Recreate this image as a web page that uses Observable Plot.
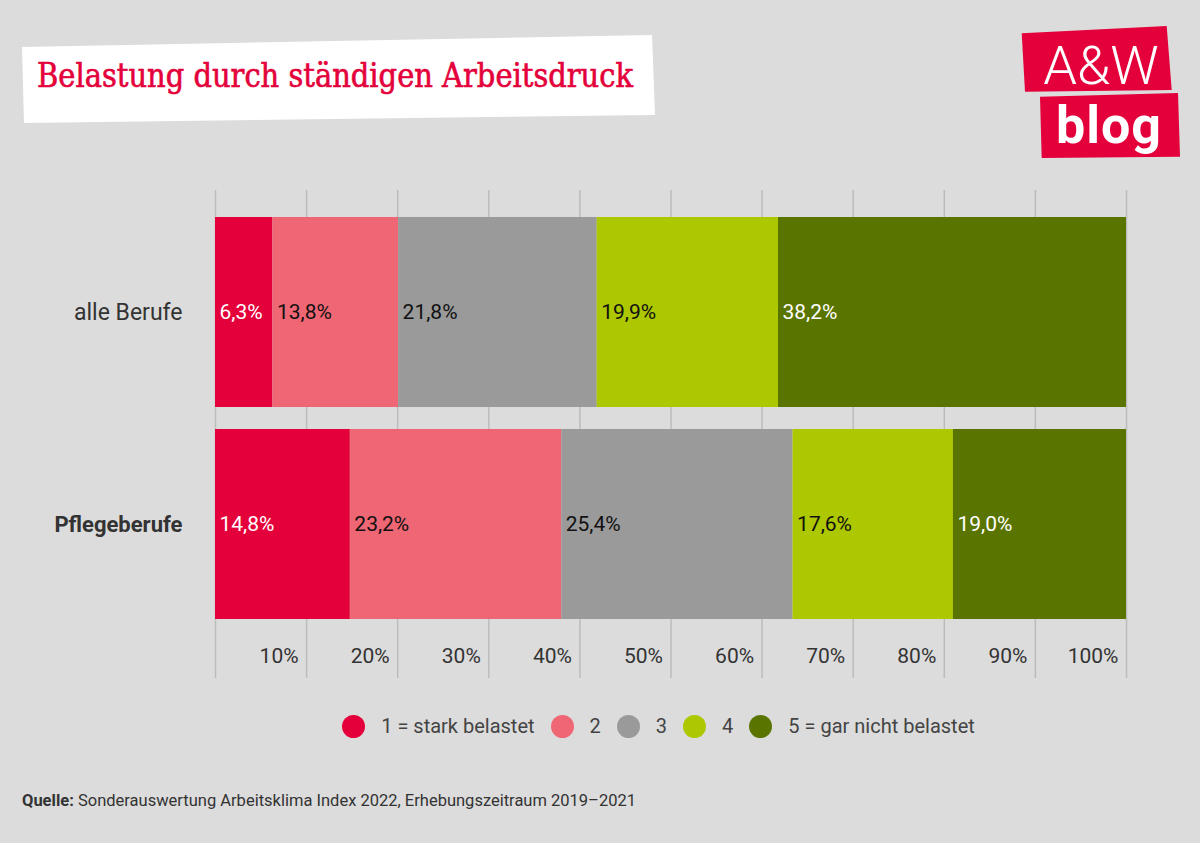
<!DOCTYPE html>
<html>
<head>
<meta charset="utf-8">
<script src="https://cdn.jsdelivr.net/npm/d3@7"></script>
<script src="https://cdn.jsdelivr.net/npm/@observablehq/plot@0.6"></script>
<style>
  html, body { margin: 0; padding: 0; background: #dcdcdc; }
  #wrap { position: relative; width: 1200px; height: 843px; background: #dcdcdc; overflow: hidden; font-family: Roboto, "Noto Sans", sans-serif; }
  #chart { position: absolute; left: 0; top: 190px; }
  #legend { position: absolute; top: 714px; left: 203px; width: 911px; display: flex; justify-content: center; align-items: center; font-size: 20px; color: #444; }
  #legend .item { display: flex; align-items: center; margin: 0 8px; }
  #legend .sw { width: 23px; height: 23px; border-radius: 50%; margin-right: 16px; }
  #source { position: absolute; left: 22px; top: 791px; font-size: 16.5px; color: #333; }
</style>
</head>
<body>
<div id="wrap">
  <svg id="title" width="700" height="140" style="position:absolute;left:0;top:0">
    <polygon points="22,47 652,35 655,115 24,123" fill="#ffffff"/>
    <text x="37" y="87" font-family="'DejaVu Serif Condensed', 'DejaVu Serif'" font-size="33" fill="#e4003a" stroke="#e4003a" stroke-width="0.6" textLength="596" lengthAdjust="spacingAndGlyphs">Belastung durch ständigen Arbeitsdruck</text>
  </svg>
  <svg id="logo" width="200" height="180" style="position:absolute;left:1000px;top:0">
    <polygon points="21.7,33.3 166.7,26 171.7,90 25,91.7" fill="#e4003a"/>
    <polygon points="40,96.7 178,93 180,156.7 41.7,158" fill="#e4003a"/>
    <text x="101" y="84" text-anchor="middle" font-family="Roboto" font-weight="300" font-size="54" fill="#fff">A&amp;W</text>
    <text x="109" y="143" text-anchor="middle" font-family="Roboto" font-weight="700" font-size="52" fill="#fff" letter-spacing="1">blog</text>
  </svg>
  <div id="chart"></div>
  <div id="legend"></div>
  <div id="source"><b>Quelle:</b> Sonderauswertung Arbeitsklima Index 2022, Erhebungszeitraum 2019–2021</div>
</div>
<script>
const groups = ["alle Berufe", "Pflegeberufe"];
const levels = ["1 = stark belastet", "2", "3", "4", "5 = gar nicht belastet"];
const colors = ["#e4003a", "#ef6674", "#9a9a9a", "#adc700", "#5a7400"];
const alleBerufe = [6.3, 13.8, 21.8, 19.9, 38.2];
const pflegeberufe = [14.8, 23.2, 25.4, 17.6, 19.0];
const ticks = [10, 20, 30, 40, 50, 60, 70, 80, 90, 100];
const gridValues = [0, 10, 20, 30, 40, 50, 60, 70, 80, 90, 100];

const data = [];
[alleBerufe, pflegeberufe].forEach((vals, gi) => {
  vals.forEach((v, li) => data.push({group: groups[gi], level: levels[li], li, value: v}));
});
const fmt = d => d.value.toFixed(1).replace(".", ",") + "%";
const whiteLevels = new Set([0, 4]);

const plot = Plot.plot({
  width: 1200,
  height: 488,
  marginLeft: 215,
  marginRight: 74,
  marginTop: 0,
  marginBottom: 0,
  style: {fontFamily: "Roboto, 'Noto Sans', sans-serif", background: "transparent"},
  x: {domain: [0, 100], axis: null},
  y: {domain: groups, axis: null, paddingInner: 0.1038, paddingOuter: 0.2028, align: 0.314},
  color: {domain: levels, range: colors},
  marks: [
    Plot.ruleX(gridValues, {x: d => d, stroke: "#bcbcbc", strokeWidth: 1.5}),
    Plot.barX(data, {x: "value", y: "group", fill: "level", order: null}),
    Plot.text(data, Plot.stackX1({x: "value", y: "group", order: null, text: d => whiteLevels.has(d.li) ? fmt(d) : null, textAnchor: "start", dx: 4, fill: "#ffffff", fontSize: 21})),
    Plot.text(data, Plot.stackX1({x: "value", y: "group", order: null, text: d => whiteLevels.has(d.li) ? null : fmt(d), textAnchor: "start", dx: 4, fill: "#111111", fontSize: 21})),
    Plot.text([groups[0]], {y: d => d, frameAnchor: "left", textAnchor: "end", dx: -33, fontSize: 23, fill: "#333"}),
    Plot.text([groups[1]], {y: d => d, frameAnchor: "left", textAnchor: "end", dx: -33, fontSize: 22, fontWeight: "bold", fill: "#333"}),
    Plot.text(ticks, {x: d => d, text: d => d + "%", frameAnchor: "bottom", dy: -16, dx: -8, textAnchor: "end", fontSize: 21, fill: "#333"})
  ]
});
document.getElementById("chart").appendChild(plot);

const legend = document.getElementById("legend");
levels.forEach((l, i) => {
  const item = document.createElement("div");
  item.className = "item";
  const sw = document.createElement("span");
  sw.className = "sw";
  sw.style.background = colors[i];
  const t = document.createElement("span");
  t.textContent = l;
  item.appendChild(sw);
  item.appendChild(t);
  legend.appendChild(item);
});
</script>
</body>
</html>
